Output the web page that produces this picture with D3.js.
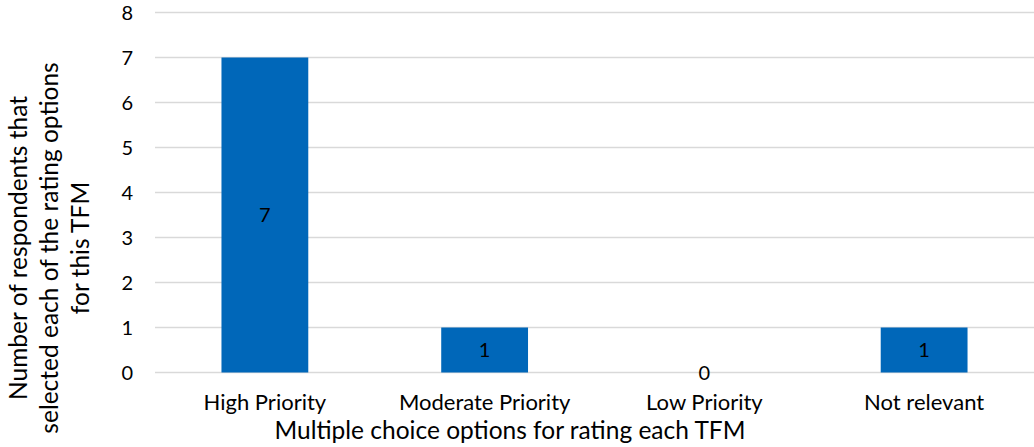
<!DOCTYPE html>
<html>
<head>
<meta charset="utf-8">
<script src="https://cdn.jsdelivr.net/npm/d3@7"></script>
<style>
  html, body { margin: 0; padding: 0; background: #fff; }
  svg { display: block; }
  text { font-family: "Lato", "Open Sans", sans-serif; fill: #000; }
</style>
</head>
<body>
<svg id="chart" width="1034" height="447"></svg>
<script>
// Rating options and how many respondents picked each one
const categories = ["High Priority", "Moderate Priority", "Low Priority", "Not relevant"];
const counts = [7, 1, 0, 1];
const yTicks = [0, 1, 2, 3, 4, 5, 6, 7, 8];
const yTitleLines = ["Number of respondents that", "selected each of the rating options", "for this TFM"];
const xTitle = "Multiple choice options for rating each TFM";

const svg = d3.select("#chart");
const margin = { left: 155, right: 0, top: 12.5, bottom: 74.5 };
const W = 1034, H = 447;

const x = d3.scaleBand()
  .domain(categories)
  .range([margin.left, W - margin.right])
  .paddingInner(0.605)
  .paddingOuter(0.3025);

const y = d3.scaleLinear()
  .domain([0, 8])
  .range([H - margin.bottom, margin.top]);

// Horizontal gridlines
svg.append("g")
  .selectAll("line")
  .data(yTicks)
  .join("line")
  .attr("x1", margin.left)
  .attr("x2", W - margin.right)
  .attr("y1", d => y(d))
  .attr("y2", d => y(d))
  .attr("stroke", "#d9d9d9")
  .attr("stroke-width", 1.5);

// Y axis tick labels
const yAxis = d3.axisLeft(y).tickValues(yTicks).tickSize(0).tickPadding(0);
svg.append("g")
  .attr("transform", `translate(${margin.left - 22},0)`)
  .call(yAxis)
  .call(g => g.select(".domain").remove())
  .call(g => g.selectAll("text")
    .attr("font-size", 20)
    .attr("font-family", "Lato, 'Open Sans', sans-serif")
    .attr("fill", "#000")
    .attr("dy", "0.35em"));

// Bars
svg.append("g")
  .selectAll("rect")
  .data(categories)
  .join("rect")
  .attr("x", d => x(d))
  .attr("width", x.bandwidth())
  .attr("y", (d, i) => y(counts[i]))
  .attr("height", (d, i) => y(0) - y(counts[i]))
  .attr("fill", "#0067b9");

// Value labels at the middle of each bar
svg.append("g")
  .selectAll("text")
  .data(categories)
  .join("text")
  .attr("x", d => x(d) + x.bandwidth() / 2)
  .attr("y", (d, i) => y(counts[i] / 2))
  .attr("dy", "0.35em")
  .attr("text-anchor", "middle")
  .attr("font-size", 20)
  .text((d, i) => counts[i]);

// X axis category labels
const xAxis = d3.axisBottom(x).tickSize(0).tickPadding(0);
svg.append("g")
  .attr("transform", `translate(0,${y(0) + 37})`)
  .call(xAxis)
  .call(g => g.select(".domain").remove())
  .call(g => g.selectAll("text")
    .attr("font-size", 22)
    .attr("font-family", "Lato, 'Open Sans', sans-serif")
    .attr("fill", "#000")
    .attr("dy", "0"));

// X axis title
svg.append("text")
  .attr("x", 510)
  .attr("y", 439)
  .attr("text-anchor", "middle")
  .attr("font-size", 24.5)
  .text(xTitle);

// Y axis title (three lines, rotated)
const yTitle = svg.append("text")
  .attr("transform", "translate(0,248) rotate(-90)")
  .attr("text-anchor", "middle")
  .attr("font-size", 24.5);
yTitle.selectAll("tspan")
  .data(yTitleLines)
  .join("tspan")
  .attr("x", 0)
  .attr("y", (d, i) => 27 + i * 31)
  .text(d => d);
</script>
</body>
</html>
